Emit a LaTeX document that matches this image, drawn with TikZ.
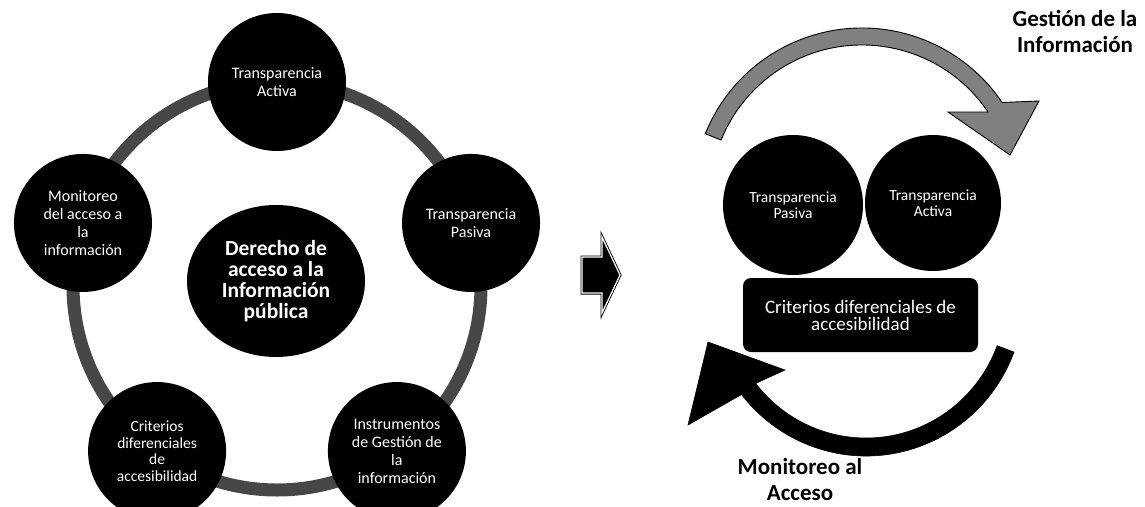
\documentclass[tikz,border=0pt]{standalone}
\usepackage{fontspec}
\setmainfont{Carlito}
\usetikzlibrary{shapes.geometric,calc}
\begin{document}
\begin{tikzpicture}[x=1pt,y=-1pt,
  bub/.style={circle, fill=black, text=white, minimum size=138pt, inner sep=0pt,
    align=center, font=\fontsize{16}{18}\selectfont},
  bubsmall/.style={bub, font=\fontsize{15.5}{16.5}\selectfont},
  core/.style={ellipse, fill=black, text=white, minimum width=178pt, minimum height=152pt,
    inner sep=0pt, align=center, font=\bfseries\fontsize{21.5}{21}\selectfont},
  crit/.style={rectangle, rounded corners=8pt, fill=black, text=white, minimum width=235pt,
    minimum height=74pt, inner sep=0pt, align=center, font=\fontsize{19}{17}\selectfont},
  lbl/.style={align=center, text=black, font=\bfseries\fontsize{23}{26}\selectfont},
  ring/.style={draw=black!72, line width=13pt},
  garrow/.style={fill=black!50, draw=black, line width=0.9pt},
  karrow/.style={fill=black, draw=black, line width=0.6pt}
]
\useasboundingbox (0,0) rectangle (1145,506);

% ---------- left: ring of five topics ----------
\coordinate (O) at (277,286);
\draw[ring] (O) circle (204);

\node[bub] (tact) at ($(O)+(-90:204)$) {Transparencia\\Activa};
\node[bub] (tpas) at ($(O)+(-18:204)$) {Transparencia\\Pasiva};
\node[bub] (inst) at ($(O)+(54:204)$) {Instrumentos\\de Gestión de\\la\\información};
\node[bubsmall] (crit) at ($(O)+(126:204)$) {Criterios\\diferenciales\\de\\accesibilidad};
\node[bub] (moni) at ($(O)+(198:204)$) {Monitoreo\\del acceso a\\la\\información};

\node[core] (dere) at (276,281) {Derecho de\\acceso a la\\Información\\pública};

% ---------- middle arrow ----------
\draw[fill=black, draw=black, double=white, double distance=1.2pt, line width=0.9pt]
  (582,257) -- (602,257) -- (602,237) -- (620,275) -- (602,313) -- (602,293) -- (582,293) -- cycle;

% ---------- right: cycle ----------
\coordinate (TC) at (862,197);
\coordinate (BC) at (866,296);

\path[garrow]
  ($(TC)+(-158:152)$) -- ($(TC)+(-158:169)$)
  arc[start angle=-158, end angle=-34, radius=169]
  -- (1039,101) -- (1010,155) -- (948,112)
  -- ($(TC)+(-34:152)$)
  arc[start angle=-34, end angle=-158, radius=152] -- cycle;

\path[karrow]
  ($(BC)+(20.5:140 and 142)$) -- ($(BC)+(20.5:158 and 160)$)
  arc[start angle=20.5, end angle=142, x radius=158, y radius=160]
  -- (688,425) -- (708,342) -- (785,370)
  -- ($(BC)+(142:140 and 142)$)
  arc[start angle=142, end angle=20.5, x radius=140, y radius=142] -- cycle;

\node[bub, minimum size=140pt, font=\fontsize{15.5}{16.5}\selectfont] (rpas) at (793,205) {Transparencia\\Pasiva};
\node[bub, minimum size=136pt, font=\fontsize{15.5}{16.5}\selectfont] (ract) at (933,203) {Transparencia\\Activa};
\node[crit] (rcrit) at (860.5,315) {Criterios diferenciales de\\accesibilidad};

\node[lbl] (gest) at (1075,31) {Gestión de la\\Información};
\node[lbl] (mona) at (800,480) {Monitoreo al\\Acceso};
\end{tikzpicture}
\end{document}
